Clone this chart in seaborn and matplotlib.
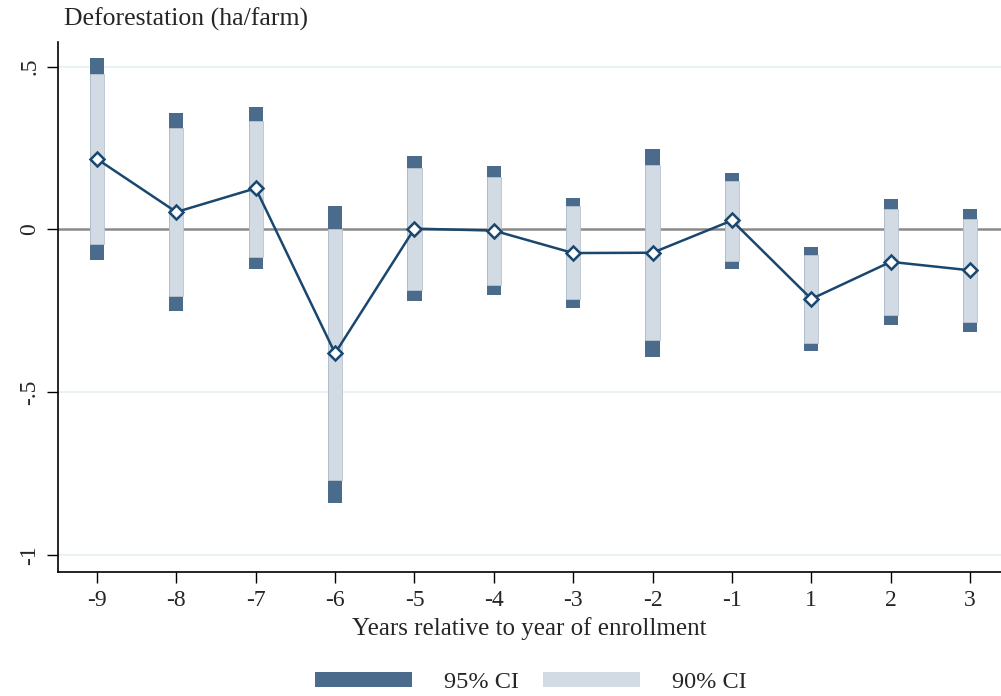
import numpy as np
import pandas as pd
import seaborn as sns
import matplotlib.pyplot as plt
from matplotlib.patches import Patch

# Données
annees = ['-9', '-8', '-7', '-6', '-5', '-4', '-3', '-2', '-1', '1', '2', '3']
coef = [0.216, 0.053, 0.126, -0.381, 0.002, -0.004, -0.073, -0.072, 0.027, -0.214, -0.100, -0.126]
ic95_haut = [0.526, 0.358, 0.375, 0.073, 0.225, 0.193, 0.097, 0.247, 0.172, -0.054, 0.093, 0.061]
ic95_bas = [-0.094, -0.251, -0.123, -0.842, -0.221, -0.203, -0.243, -0.392, -0.121, -0.375, -0.294, -0.315]
ic90_haut = [0.476, 0.311, 0.334, 0.000, 0.189, 0.161, 0.070, 0.196, 0.148, -0.080, 0.061, 0.031]
ic90_bas = [-0.046, -0.205, -0.084, -0.771, -0.187, -0.171, -0.215, -0.340, -0.097, -0.349, -0.263, -0.285]

df = pd.DataFrame({'annee': annees, 'coef': coef,
                   'h95': ic95_haut, 'b95': ic95_bas,
                   'h90': ic90_haut, 'b90': ic90_bas})
df['pos'] = np.arange(len(df))

sns.set_style('white')
plt.rcParams['font.family'] = ['Liberation Serif', 'DejaVu Serif']

fonce = '#4a6b8c'
clair = '#d2dae3'
marine = '#1a476f'

fig = plt.figure(figsize=(10.01, 6.96), dpi=100)
ax = fig.add_axes([0.058, 0.178, 0.942, 0.762])

# grille et ligne zéro
for y in [0.5, -0.5, -1]:
    ax.axhline(y, color='#eaf2f3', lw=1.5, zorder=0)
ax.axhline(0, color='#8a8a8a', lw=1.8, zorder=1)

# intervalles de confiance
ax.bar(df['pos'], df['h95'] - df['b95'], bottom=df['b95'], width=0.18,
       color=fonce, edgecolor='none', zorder=2)
ax.bar(df['pos'], df['h90'] - df['b90'], bottom=df['b90'], width=0.18,
       color=clair, edgecolor='#b8c4d0', linewidth=0.6, zorder=3)

sns.lineplot(data=df, x='pos', y='coef', ax=ax, color=marine, lw=1.8,
             marker='D', markersize=7, markerfacecolor='white',
             markeredgecolor=marine, markeredgewidth=1.8, zorder=4)

ax.set_xlim(-0.49, 11.39)
ax.set_ylim(-1.053, 0.576)
ax.set_xticks(df['pos'])
ax.set_xticklabels(df['annee'], fontsize=17)
ax.set_yticks([-1, -0.5, 0, 0.5])
ax.set_yticklabels(['-1', '-.5', '0', '.5'], fontsize=17, rotation=90, va='center')
ax.tick_params(axis='both', direction='out', length=8, width=1, color='black', left=True, bottom=True)
ax.tick_params(axis='x', pad=5)
ax.tick_params(axis='y', pad=5)

for s in ['top', 'right']:
    ax.spines[s].set_visible(False)
for s in ['left', 'bottom']:
    ax.spines[s].set_color('black')
    ax.spines[s].set_linewidth(1.2)

ax.set_xlabel('Years relative to year of enrollment', fontsize=18, labelpad=4)
ax.set_ylabel('')
fig.text(0.064, 0.972, 'Deforestation (ha/farm)', fontsize=18.5, ha='left', va='center')

handles = [Patch(facecolor=fonce, edgecolor='none', label='95% CI'),
           Patch(facecolor=clair, edgecolor='none', label='90% CI')]
fig.legend(handles=handles, loc='center', bbox_to_anchor=(0.53, 0.019), ncol=2,
           frameon=False, fontsize=17.5, handlelength=4.0, handleheight=0.55,
           handletextpad=1.3, columnspacing=1.0)

fig.savefig('out.png', dpi=100)
